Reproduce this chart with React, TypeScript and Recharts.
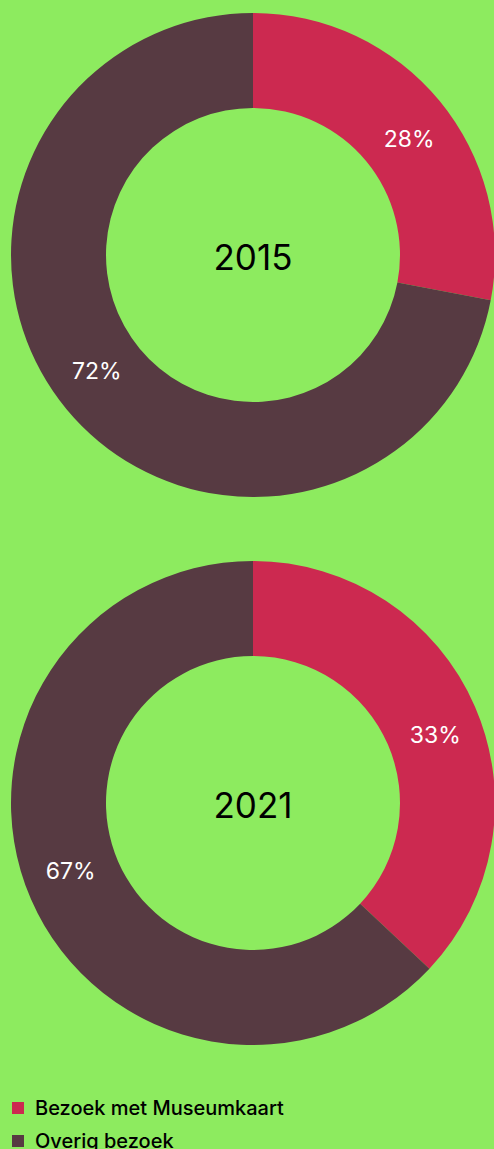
import React from "react";
import { PieChart, Pie, Cell } from "recharts";

const categories = ["Bezoek met Museumkaart", "Overig bezoek"];
const colors = ["#CC2950", "#573A42"];
const years = ["2015", "2021"];
const values2015 = [28, 72];
const values2021 = [37, 63];
const labels2015 = ["28%", "72%"];
const labels2021 = ["33%", "67%"];

const BG = "#8DEB5F";
const FONT = "Inter, 'Noto Sans', sans-serif";
const RAD = Math.PI / 180;

const makeData = (vals: number[], labels: string[]) =>
  categories.map((name, i) => ({ name, value: vals[i], label: labels[i] }));

const data2015 = makeData(values2015, labels2015);
const data2021 = makeData(values2021, labels2021);

const renderLabel = (props: any) => {
  const { cx, cy, midAngle, innerRadius, outerRadius, index, payload } = props;
  const r = (Number(innerRadius) + Number(outerRadius)) / 2;
  const a = (midAngle - 3) * RAD;
  const x = Number(cx) + r * Math.cos(-a);
  const y = Number(cy) + r * Math.sin(-a);
  const text = payload?.label ?? payload?.payload?.label ?? "";
  return (
    <text
      key={"l" + index}
      x={x}
      y={y}
      fill="#FFFFFF"
      textAnchor="middle"
      dominantBaseline="central"
      fontSize={23}
      fontFamily={FONT}
    >
      {text}
    </text>
  );
};

export default function App() {
  const W = 494;
  const H = 1149;
  const cx = 253;
  const cys = [255, 803];
  return (
    <div
      style={{
        position: "fixed",
        top: 0,
        left: 0,
        width: W,
        height: H,
        background: BG,
        overflow: "hidden",
      }}
    >
      <PieChart width={W} height={1090} margin={{ top: 0, right: 0, bottom: 0, left: 0 }}>
        <Pie
          data={data2015}
          dataKey="value"
          nameKey="name"
          cx={cx}
          cy={cys[0]}
          innerRadius={147}
          outerRadius={242}
          startAngle={90}
          endAngle={-270}
          stroke="none"
          label={renderLabel}
          labelLine={false}
          isAnimationActive={false}
        >
          {data2015.map((d, i) => (
            <Cell key={d.name} fill={colors[i]} />
          ))}
        </Pie>
        <Pie
          data={data2021}
          dataKey="value"
          nameKey="name"
          cx={cx}
          cy={cys[1]}
          innerRadius={147}
          outerRadius={242}
          startAngle={90}
          endAngle={-270}
          stroke="none"
          label={renderLabel}
          labelLine={false}
          isAnimationActive={false}
        >
          {data2021.map((d, i) => (
            <Cell key={d.name} fill={colors[i]} />
          ))}
        </Pie>
        {years.map((y, i) => (
          <text
            key={y}
            x={cx}
            y={cys[i] + 2}
            textAnchor="middle"
            dominantBaseline="central"
            fontSize={35}
            fontFamily={FONT}
            fill="#000"
          >
            {y}
          </text>
        ))}
      </PieChart>
      <div
        style={{
          position: "absolute",
          left: 0,
          top: 1091,
          fontFamily: FONT,
          fontSize: 20,
          fontWeight: 500,
          color: "#000",
        }}
      >
        {categories.map((c, i) => (
          <div key={c} style={{ display: "flex", alignItems: "center", height: 33 }}>
            <span
              style={{
                display: "inline-block",
                width: 12,
                height: 12,
                background: colors[i],
                marginLeft: 12,
                marginRight: 11,
              }}
            />
            <span>{c}</span>
          </div>
        ))}
      </div>
    </div>
  );
}
